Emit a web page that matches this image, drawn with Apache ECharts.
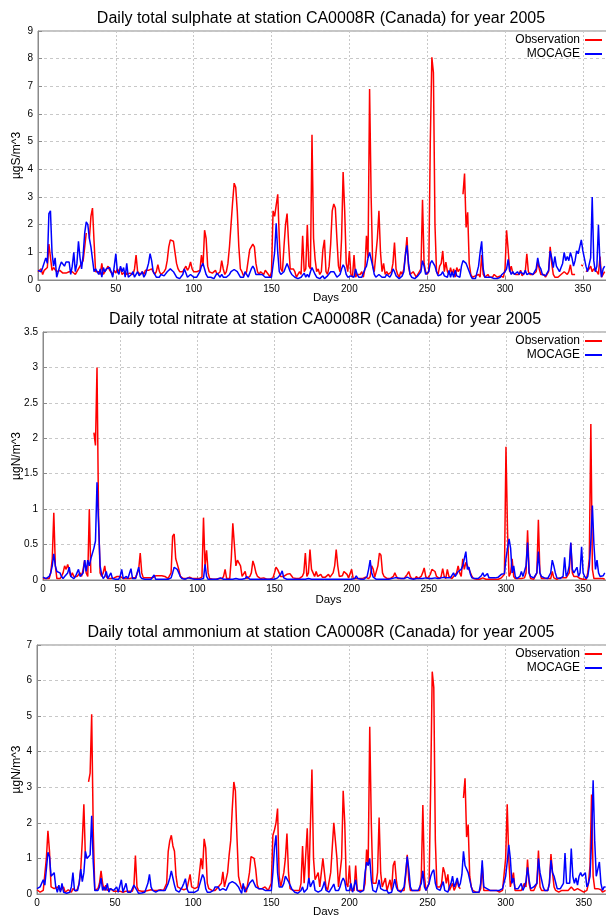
<!DOCTYPE html>
<html><head><meta charset="utf-8">
<script src="https://cdn.jsdelivr.net/npm/echarts/dist/echarts.min.js"></script>
<style>html,body{margin:0;padding:0;background:#fff}#c{width:606px;height:915px}</style>
</head><body><div id="c"></div>
<script>
const titles = [
  'Daily total sulphate at station CA0008R (Canada) for year 2005',
  'Daily total nitrate at station CA0008R (Canada) for year 2005',
  'Daily total ammonium at station CA0008R (Canada) for year 2005'
];
const units = ['µgS/m^3', 'µgN/m^3', 'µgN/m^3'];
const seriesNames = ['Observation', 'MOCAGE'];
const xTicks = [0, 50, 100, 150, 200, 250, 300, 350];

const sulphateObs = [
0.3,0.25,0.4,0.2,0.35,0.3,0.45,1.3,1.35,0.35,
0.45,0.45,0.3,0.3,0.35,0.3,0.25,0.3,0.25,0.3,
0.3,0.35,0.3,0.35,0.2,0.3,0.4,0.35,0.6,0.7,
1.2,1.7,null,1.5,2.3,2.6,1.4,0.3,0.25,0.3,
0.2,0.6,0.2,0.3,0.3,0.5,0.35,0.3,0.2,0.35,
0.25,0.4,0.3,0.45,0.2,0.25,0.3,0.2,0.15,0.25,
0.2,0.2,0.4,0.9,0.3,0.25,0.2,0.3,0.2,0.35,
0.4,0.35,0.4,0.4,0.3,0.2,0.3,0.55,0.3,0.2,
0.25,0.3,0.4,0.7,1.2,1.45,1.5,1.4,1.0,0.6,
0.4,0.3,0.35,0.3,0.25,0.5,0.35,0.45,0.65,0.4,
0.3,0.35,0.3,0.25,0.35,0.9,0.5,1.8,1.5,0.5,
0.3,0.35,0.25,0.2,0.35,0.2,0.15,0.3,0.7,0.4,
0.2,0.3,0.6,1.2,2.0,2.8,3.5,3.35,2.5,1.2,
0.4,0.3,0.15,0.2,0.3,0.25,1.1,1.15,1.3,1.2,
0.6,0.3,0.2,0.3,0.25,0.2,0.35,0.3,0.2,0.1,
0.3,2.5,2.3,2.7,3.1,1.5,0.4,0.3,1.2,2.0,
2.4,1.3,0.4,0.4,0.4,0.3,0.1,0.2,0.3,0.2,
1.6,0.3,0.4,2.0,0.5,0.4,5.25,1.5,0.75,0.3,
0.4,0.2,0.3,1.1,1.45,0.3,0.2,0.5,1.3,2.5,
2.75,2.6,1.5,0.5,0.3,1.5,3.9,2.5,0.6,0.3,
1.05,0.2,0.1,0.9,0.1,0.2,0.15,0.2,0.3,0.1,
0.4,1.6,0.8,6.9,3.0,0.5,0.3,0.3,1.5,2.5,
1.0,0.3,0.6,0.2,0.3,0.2,0.15,0.3,0.6,1.35,
0.4,0.2,0.1,0.3,0.2,0.4,0.9,1.55,0.5,0.2,
0.15,0.3,0.2,0.1,0.2,0.3,0.4,2.9,0.6,0.3,
0.2,0.3,5.0,8.05,7.5,2.0,0.3,0.2,0.5,0.6,
1.05,0.3,0.65,0.3,0.2,0.45,0.2,0.4,0.1,0.45,
0.3,0.4,null,3.1,3.85,1.9,2.45,0.6,0.2,0.1,
0.1,0.15,0.1,0.2,0.1,0.9,0.2,0.1,0.15,0.2,
0.1,0.15,0.1,0.2,0.15,0.1,0.1,0.15,0.2,0.1,
0.4,1.8,1.1,0.3,0.5,0.25,0.3,0.2,0.15,0.2,
0.35,0.15,0.2,0.3,0.95,0.3,0.2,0.15,0.2,0.25,
0.3,0.65,0.4,0.2,0.15,0.2,0.1,0.15,0.3,1.2,
0.6,0.2,0.1,0.15,0.1,0.1,0.2,0.15,0.3,0.25,
0.2,0.3,0.55,0.2,0.15,0.2,null,null,null,0.55,
0.5,null,0.3,0.3,0.4,0.5,0.3,0.4,0.35,0.3,
0.2,0.85,0.1,0.15,0.3];

const sulphateMod = [
0.35,0.4,0.3,0.45,0.5,0.8,0.6,2.4,2.5,1.0,
0.5,0.8,0.1,0.3,0.5,0.65,0.7,0.5,0.65,0.6,
0.65,0.2,0.5,1.0,0.3,0.6,1.4,0.8,0.4,0.9,
1.7,2.1,2.0,1.5,1.2,1.2,0.3,0.4,0.45,0.2,
0.4,0.1,0.45,0.3,0.4,0.35,0.45,0.3,0.1,0.5,
0.95,0.3,0.2,0.5,0.3,0.45,0.1,0.6,0.1,0.15,
0.2,0.3,0.1,0.2,0.3,0.15,0.2,0.3,0.1,0.2,
0.4,0.6,0.95,0.7,0.3,0.2,0.1,0.15,0.1,0.2,
0.2,0.15,0.2,0.3,0.35,0.4,0.38,0.3,0.2,0.1,
0.05,0.05,0.1,0.2,0.4,0.25,0.1,0.05,0.2,0.15,
0.1,0.05,0.1,0.2,0.3,0.5,0.6,0.4,0.2,0.1,
0.05,0.1,0.1,0.05,0.1,0.25,0.2,0.1,0.2,0.1,
0.15,0.1,0.15,0.2,0.3,0.35,0.38,0.35,0.3,0.2,
0.1,0.05,0.1,0.3,0.2,0.1,0.25,0.4,0.5,0.4,
0.2,0.15,0.2,0.15,0.2,0.15,0.1,0.15,0.1,0.1,
0.1,0.15,1.0,2.05,1.0,0.3,0.2,0.2,0.3,0.45,
0.6,0.45,0.3,0.2,0.15,0.1,0.05,0.05,0.1,0.1,
0.15,0.25,0.1,0.2,0.1,0.3,0.45,0.45,0.2,0.1,
0.05,0.05,0.1,0.15,0.05,0.1,0.15,0.2,0.3,0.35,
0.3,0.2,0.1,0.1,0.2,0.4,0.55,0.45,0.2,0.1,
0.1,0.15,0.2,0.1,0.4,0.2,0.1,0.05,0.1,0.15,
0.4,0.5,0.8,1.0,1.05,0.5,0.2,0.1,0.1,0.2,
0.15,0.1,0.15,0.1,0.2,0.15,0.1,0.2,0.4,0.3,
0.15,0.1,0.05,0.1,0.15,0.3,0.9,1.25,0.6,0.2,
0.1,0.1,0.05,0.1,0.15,0.1,0.3,0.7,0.5,0.2,
0.15,0.3,0.6,0.7,0.75,0.5,0.3,0.15,0.15,0.2,
0.3,0.15,0.2,0.1,0.35,0.1,0.3,0.1,0.35,0.15,
0.2,0.1,0.5,0.7,0.72,0.6,0.45,0.4,0.15,0.05,
0.05,0.05,0.1,0.5,1.0,1.4,0.4,0.1,0.1,0.1,
0.15,0.1,0.05,0.05,0.1,0.05,0.1,0.1,0.2,0.2,
0.3,0.4,0.75,0.35,0.2,0.3,0.2,0.25,0.3,0.2,
0.3,0.25,0.2,0.35,0.2,0.15,0.25,0.2,0.2,0.15,
0.4,0.8,0.5,0.4,0.2,0.2,0.15,0.15,0.35,1.05,
0.8,0.45,0.85,0.5,0.4,0.3,0.45,0.6,1.0,0.7,
0.85,0.7,1.0,0.8,0.5,0.7,1.05,0.95,1.2,1.45,
1.05,1.1,0.5,0.3,0.35,0.8,3.0,0.7,0.3,0.5,
2.0,0.6,0.1,0.4,0.5];

const nitrateObs = [
0.02,0.01,0.02,0.01,0.02,0.1,0.3,0.95,0.2,0.02,
0.01,0.02,0.05,0.1,0.2,0.15,0.22,0.2,0.05,0.1,
0.05,0.03,0.05,0.04,0.1,0.05,0.15,0.28,0.1,0.05,
1.0,0.1,null,2.08,1.9,3.0,0.9,0.1,0.05,0.1,
0.2,0.05,0.02,0.03,0.02,0.04,0.03,0.05,0.05,0.04,
0.05,0.03,0.02,0.03,0.02,0.03,0.02,0.04,0.03,0.02,
0.03,0.05,0.15,0.38,0.1,0.03,0.02,0.03,0.02,0.03,
0.02,0.03,0.05,0.06,0.05,0.06,0.05,0.06,0.04,0.05,
0.03,0.02,0.03,0.1,0.62,0.65,0.3,0.32,0.15,0.05,
0.03,0.02,0.03,0.02,0.03,0.04,0.03,0.02,0.03,0.02,
0.03,0.02,0.03,0.04,0.88,0.2,0.42,0.1,0.02,0.01,
0.01,0.02,0.01,0.01,0.02,0.01,0.02,0.05,0.15,0.02,
0.01,0.02,0.3,0.8,0.5,0.2,0.28,0.28,0.2,0.05,
0.03,0.12,0.02,0.03,0.05,0.1,0.27,0.2,0.1,0.05,
0.04,0.02,0.04,0.03,0.02,0.01,0.01,0.01,0.02,0.03,
0.1,0.18,0.15,0.1,0.05,0.04,0.05,0.03,0.08,0.1,
0.09,0.06,0.03,0.02,0.02,0.01,0.02,0.03,0.05,0.1,
0.38,0.05,0.1,0.43,0.15,0.1,0.05,0.12,0.05,0.05,
0.08,0.04,0.05,0.04,0.05,0.08,0.04,0.05,0.1,0.2,
0.43,0.2,0.05,0.03,0.06,0.12,0.1,0.08,0.03,0.05,
0.15,0.02,0.01,0.02,0.01,0.02,0.01,0.02,0.03,0.04,
0.05,0.02,0.05,0.2,0.15,0.04,0.05,0.2,0.38,0.35,
0.1,0.05,0.03,0.02,0.03,0.02,0.04,0.05,0.1,0.05,
0.02,0.03,0.02,0.03,0.02,0.05,0.08,0.12,0.05,0.02,
0.01,0.02,0.05,0.02,0.03,0.05,0.1,0.17,0.05,0.02,
0.03,0.08,0.15,0.15,0.12,0.05,0.03,0.02,0.05,0.16,
0.05,0.02,0.15,0.05,0.03,0.02,0.05,0.03,0.1,0.2,
0.1,0.05,0.3,0.15,0.25,0.2,0.15,0.1,0.05,0.02,
0.02,0.01,0.02,0.01,0.02,0.03,0.02,0.01,0.02,0.01,
0.02,0.01,0.02,0.01,0.02,0.01,0.02,0.03,0.05,0.08,
1.88,0.7,0.05,0.1,0.3,0.05,0.02,0.03,0.02,0.01,
0.02,0.01,0.03,0.1,0.7,0.1,0.02,0.02,0.01,0.02,
0.1,0.85,0.1,0.02,0.01,0.02,0.01,0.02,0.01,0.02,
0.12,0.03,0.02,0.01,0.02,0.03,0.02,0.03,0.02,0.03,
0.05,0.1,0.52,0.1,0.05,0.04,0.05,0.03,0.02,0.01,
0.01,0.02,0.01,0.1,0.3,2.2,0.15,0.02,0.01,0.02,
0.01,0.02,0.01,0.02,0.01];

const nitrateMod = [
0.04,0.02,0.02,0.03,0.05,0.1,0.2,0.37,0.2,0.12,
0.12,0.1,0.05,0.02,0.05,0.05,0.1,0.18,0.05,0.03,
0.02,0.05,0.1,0.15,0.05,0.05,0.1,0.28,0.12,0.28,
0.2,0.3,0.3,0.45,0.55,1.38,0.8,0.2,0.08,0.02,
0.05,0.12,0.02,0.03,0.1,0.02,0.02,0.01,0.02,0.01,
0.05,0.15,0.02,0.02,0.05,0.02,0.01,0.16,0.02,0.01,
0.02,0.1,0.18,0.05,0.02,0.01,0.01,0.01,0.01,0.01,
0.01,0.02,0.07,0.01,0.01,0.01,0.01,0.01,0.01,0.01,
0.01,0.01,0.01,0.03,0.1,0.18,0.2,0.15,0.1,0.05,
0.02,0.01,0.01,0.02,0.03,0.03,0.02,0.01,0.01,0.01,
0.01,0.01,0.01,0.01,0.02,0.22,0.05,0.01,0.01,0.01,
0.01,0.01,0.01,0.01,0.02,0.03,0.02,0.01,0.01,0.01,
0.01,0.01,0.01,0.01,0.01,0.02,0.01,0.01,0.01,0.01,
0.01,0.02,0.05,0.03,0.01,0.01,0.01,0.01,0.01,0.01,
0.01,0.01,0.01,0.01,0.01,0.01,0.01,0.01,0.01,0.01,
0.01,0.02,0.03,0.05,0.08,0.13,0.03,0.02,0.01,0.01,
0.01,0.01,0.01,0.01,0.01,0.01,0.01,0.01,0.01,0.01,
0.01,0.01,0.02,0.02,0.01,0.01,0.01,0.01,0.01,0.01,
0.01,0.01,0.01,0.01,0.01,0.01,0.01,0.01,0.01,0.01,
0.01,0.01,0.01,0.01,0.01,0.01,0.01,0.01,0.01,0.01,
0.01,0.01,0.02,0.06,0.02,0.01,0.01,0.01,0.01,0.02,
0.05,0.15,0.28,0.1,0.04,0.02,0.01,0.01,0.01,0.01,
0.01,0.01,0.01,0.01,0.01,0.02,0.02,0.03,0.03,0.05,
0.03,0.02,0.02,0.03,0.02,0.03,0.04,0.03,0.02,0.02,
0.01,0.01,0.02,0.02,0.02,0.03,0.02,0.02,0.03,0.02,
0.02,0.03,0.02,0.02,0.03,0.02,0.02,0.02,0.03,0.02,
0.04,0.02,0.03,0.05,0.03,0.05,0.1,0.05,0.08,0.12,
0.1,0.15,0.2,0.3,0.4,0.15,0.18,0.08,0.03,0.02,
0.02,0.02,0.02,0.03,0.06,0.1,0.05,0.03,0.09,0.03,
0.02,0.03,0.03,0.03,0.03,0.04,0.05,0.08,0.09,0.09,
0.3,0.45,0.58,0.45,0.1,0.2,0.05,0.02,0.02,0.05,
0.12,0.05,0.03,0.2,0.53,0.1,0.05,0.05,0.03,0.05,
0.1,0.4,0.1,0.05,0.03,0.03,0.02,0.02,0.03,0.1,
0.28,0.2,0.1,0.03,0.03,0.02,0.03,0.05,0.32,0.05,
0.1,0.2,0.53,0.15,0.1,0.08,0.18,0.05,0.1,0.47,
0.1,0.05,0.02,0.05,0.2,0.55,1.05,0.5,0.15,0.28,
0.1,0.05,0.03,0.06,0.1];

const ammoniumObs = [
0.12,0.08,0.05,0.08,0.1,0.12,1.0,1.78,1.2,0.2,
0.15,0.15,0.2,0.2,0.15,0.1,0.1,0.2,0.05,0.08,
0.12,0.08,0.05,0.15,0.1,0.08,0.15,0.3,0.7,1.5,
2.52,1.0,null,3.15,3.4,5.05,1.8,0.1,0.1,0.15,
0.3,0.65,0.3,0.1,0.25,0.1,0.12,0.15,0.1,0.08,
0.05,0.08,0.1,0.08,0.05,0.05,0.08,0.08,0.05,0.08,
0.1,0.08,0.2,1.08,0.2,0.1,0.05,0.08,0.1,0.08,
0.05,0.1,0.15,0.12,0.1,0.1,0.12,0.1,0.1,0.12,
0.1,0.1,0.15,0.3,1.2,1.5,1.65,1.35,1.2,0.5,
0.2,0.15,0.15,0.15,0.12,0.15,0.15,0.2,0.55,0.2,
0.15,0.15,0.2,0.2,0.2,1.0,0.7,1.55,1.3,0.3,
0.15,0.1,0.1,0.1,0.1,0.15,0.2,0.15,0.3,0.62,
0.2,0.15,0.6,1.1,1.5,2.4,3.15,2.9,1.6,0.5,
0.3,0.15,0.1,0.2,0.05,0.1,0.6,1.05,1.0,1.0,
0.7,0.25,0.15,0.15,0.15,0.2,0.2,0.15,0.1,0.05,
0.3,1.65,1.8,2.0,2.4,0.5,0.2,0.15,0.6,1.0,
1.7,0.6,0.15,0.1,0.1,0.1,0.1,0.1,0.1,0.3,
1.35,0.3,0.3,1.85,0.3,0.3,3.5,1.0,0.4,0.4,
0.6,0.2,0.2,1.0,1.05,0.2,0.1,0.1,0.6,1.3,
2.0,1.95,1.0,0.2,0.2,1.0,2.9,2.0,0.3,0.2,
0.8,0.1,0.05,0.1,0.8,0.1,0.1,0.1,0.15,0.1,
0.3,1.25,0.8,4.7,2.0,0.3,0.3,0.3,0.6,2.15,
0.6,0.2,0.2,0.45,0.1,0.1,0.4,0.1,0.8,0.93,
0.4,0.1,0.1,0.1,0.1,0.1,0.5,1.1,0.4,0.1,
0.1,0.1,0.1,0.1,0.15,0.1,0.5,2.5,0.5,0.1,
0.1,0.3,3.0,6.25,5.8,1.5,0.2,0.2,0.2,0.3,
0.75,0.6,0.3,0.55,0.1,0.2,0.3,0.1,0.2,0.4,
0.2,0.15,null,2.7,3.25,1.6,1.95,0.5,0.2,0.1,
0.1,0.05,0.1,0.05,0.15,0.8,0.1,0.05,0.1,0.05,
0.1,0.08,0.1,0.05,0.1,0.1,0.05,0.1,0.1,0.15,
1.0,2.52,1.0,0.2,0.2,0.6,0.1,0.1,0.1,0.1,
0.1,0.1,0.3,0.2,0.97,0.3,0.1,0.1,0.1,0.1,
0.3,1.22,0.2,0.1,0.1,0.1,0.1,0.1,0.3,1.12,
0.6,0.2,0.1,0.1,0.05,0.1,0.1,0.15,0.1,0.15,
0.1,0.15,0.2,0.25,0.1,0.1,0.15,0.1,0.1,0.15,
0.05,0.1,0.1,0.3,0.8,2.8,0.5,0.15,0.1,0.15,
0.1,0.12,0.05,0.1,0.1];

const ammoniumMod = [
0.15,0.18,0.2,0.2,0.4,0.25,0.7,1.17,1.05,0.5,
0.45,0.6,0.2,0.05,0.25,0.05,0.3,0.05,0.1,0.02,
0.05,0.05,0.2,0.6,0.1,0.05,0.1,0.3,0.7,0.35,
0.6,1.2,1.0,1.05,1.1,2.2,0.9,0.1,0.1,0.1,
0.2,0.45,0.1,0.2,0.1,0.3,0.05,0.15,0.1,0.1,
0.15,0.2,0.05,0.1,0.4,0.05,0.1,0.3,0.05,0.05,
0.05,0.1,0.25,0.2,0.1,0.02,0.02,0.03,0.05,0.05,
0.1,0.3,0.55,0.2,0.1,0.05,0.05,0.05,0.1,0.1,
0.1,0.1,0.1,0.2,0.3,0.45,0.65,0.45,0.25,0.1,
0.05,0.05,0.05,0.2,0.3,0.43,0.15,0.05,0.02,0.05,
0.1,0.05,0.05,0.1,0.25,0.4,0.55,0.45,0.15,0.05,
0.05,0.05,0.05,0.1,0.2,0.2,0.2,0.1,0.15,0.15,
0.1,0.1,0.2,0.3,0.35,0.35,0.35,0.3,0.25,0.2,
0.1,0.02,0.3,0.05,0.1,0.2,0.3,0.35,0.4,0.35,
0.2,0.15,0.15,0.1,0.15,0.15,0.1,0.1,0.1,0.05,
0.1,0.6,1.3,1.65,0.6,0.2,0.15,0.2,0.3,0.5,
0.5,0.35,0.25,0.15,0.1,0.05,0.02,0.02,0.05,0.1,
0.2,0.05,0.1,0.15,0.45,0.2,0.3,0.38,0.1,0.05,
0.05,0.05,0.1,0.2,0.35,0.1,0.05,0.05,0.1,0.2,
0.28,0.1,0.05,0.1,0.2,0.35,0.45,0.35,0.1,0.05,
0.1,0.3,0.05,0.1,0.4,0.1,0.05,0.05,0.05,0.1,
0.6,0.9,0.8,1.0,0.4,0.1,0.05,0.05,0.2,0.4,
0.15,0.1,0.1,0.1,0.1,0.02,0.05,0.05,0.2,0.42,
0.2,0.1,0.05,0.05,0.1,0.2,0.6,1.05,0.7,0.2,
0.1,0.1,0.1,0.1,0.1,0.1,0.3,0.65,0.2,0.1,
0.1,0.3,0.5,0.62,0.68,0.3,0.15,0.1,0.1,0.15,
0.35,0.1,0.1,0.05,0.2,0.3,0.5,0.2,0.3,0.45,
0.2,0.3,0.55,1.2,0.8,0.75,0.6,0.6,0.2,0.05,
0.05,0.05,0.05,0.05,0.3,0.95,0.2,0.15,0.15,0.15,
0.1,0.05,0.1,0.05,0.1,0.05,0.1,0.1,0.15,0.2,
0.5,0.9,1.38,1.0,0.3,0.45,0.15,0.15,0.15,0.2,
0.3,0.1,0.2,0.35,0.75,0.4,0.15,0.2,0.2,0.2,
0.3,1.0,0.6,0.4,0.2,0.1,0.1,0.1,0.3,0.95,
0.6,0.5,0.5,0.15,0.15,0.15,0.2,0.3,1.15,0.3,
0.25,0.3,1.28,0.5,0.3,0.45,0.25,0.5,0.6,0.5,
0.5,0.6,0.2,0.3,0.5,1.5,3.2,1.5,0.5,0.7,
0.9,0.3,0.1,0.2,0.2];

const FONT = "'Liberation Sans', Arial, Helvetica, sans-serif";
const panels = [
  {obs: sulphateObs, mod: sulphateMod, ymax: 9, yint: 1, left: 38, top: 31, height: 249, width: 576, tx: 321, ty: 19, lt: 34, yGap: 15, xGap: 11.5},
  {obs: nitrateObs, mod: nitrateMod, ymax: 3.5, yint: 0.5, left: 43, top: 332, height: 248, width: 571, tx: 325, ty: 320, lt: 335, yGap: 20, xGap: 13.5},
  {obs: ammoniumObs, mod: ammoniumMod, ymax: 7, yint: 1, left: 37, top: 645, height: 249, width: 578, tx: 321, ty: 633, lt: 648, yGap: 14, xGap: 11.5}
];
const pairs = arr => arr.map((v, i) => [i, v === null ? '-' : v]);

const grids = [], xAxes = [], yAxes = [], series = [], legends = [], graphics = [];
panels.forEach((p, i) => {
  grids.push({left: p.left, top: p.top, width: p.width, height: p.height, show: true,
    borderColor: '#8a8a8a', borderWidth: 1, containLabel: false, outerBoundsMode: 'none'});
  xAxes.push({
    gridIndex: i, type: 'value', min: 0, max: 370, interval: 50,
    name: 'Days', nameLocation: 'middle', nameGap: p.xGap, nameMoveOverlap: false,
    nameTextStyle: {fontFamily: FONT, fontSize: 11.5, color: '#000'},
    axisLine: {show: true, lineStyle: {color: '#8a8a8a', width: 1}},
    axisTick: {show: true, inside: true, length: 4, lineStyle: {color: '#8a8a8a'}},
    axisLabel: {fontFamily: FONT, fontSize: 10, color: '#000', margin: 4, showMaxLabel: false,
      formatter: v => xTicks.includes(v) ? String(v) : ''},
    splitLine: {show: true, lineStyle: {color: '#c8c8c8', type: [2, 2], width: 1}}
  });
  yAxes.push({
    gridIndex: i, type: 'value', min: 0, max: p.ymax, interval: p.yint,
    name: units[i], nameLocation: 'middle', nameRotate: 90, nameGap: p.yGap, nameMoveOverlap: false,
    nameTextStyle: {fontFamily: FONT, fontSize: 12, color: '#000'},
    axisLine: {show: true, lineStyle: {color: '#8a8a8a', width: 1}},
    axisTick: {show: true, inside: true, length: 4, lineStyle: {color: '#8a8a8a'}},
    axisLabel: {fontFamily: FONT, fontSize: 10, color: '#000', margin: 5},
    splitLine: {show: true, lineStyle: {color: '#c8c8c8', type: [3, 3], width: 1}}
  });
  series.push({
    name: seriesNames[0], type: 'line', xAxisIndex: i, yAxisIndex: i,
    data: pairs(p.obs), showSymbol: false, symbol: 'none', connectNulls: false,
    color: '#ff0000', lineStyle: {color: '#ff0000', width: 1.5}, animation: false, z: 2
  });
  series.push({
    name: seriesNames[1], type: 'line', xAxisIndex: i, yAxisIndex: i,
    data: pairs(p.mod), showSymbol: false, symbol: 'none', connectNulls: false,
    color: '#0000ff', lineStyle: {color: '#0000ff', width: 1.5}, animation: false, z: 3
  });
  legends.push({
    orient: 'vertical', right: 4, top: p.lt, align: 'right', icon: 'rect',
    itemWidth: 17, itemHeight: 2, itemGap: 2, padding: 0,
    textStyle: {fontFamily: FONT, fontSize: 12, color: '#000'},
    data: seriesNames
  });
  graphics.push({
    type: 'text', x: p.tx, y: p.ty,
    style: {text: titles[i], font: '16px ' + FONT, fill: '#000',
      align: 'center', verticalAlign: 'middle', textAlign: 'center', textVerticalAlign: 'middle'}
  });
});

const chart = echarts.init(document.getElementById('c'), null, {renderer: 'canvas'});
chart.setOption({
  animation: false,
  backgroundColor: '#ffffff',
  grid: grids, xAxis: xAxes, yAxis: yAxes, series: series,
  legend: legends, graphic: graphics
});
</script>
</body></html>
